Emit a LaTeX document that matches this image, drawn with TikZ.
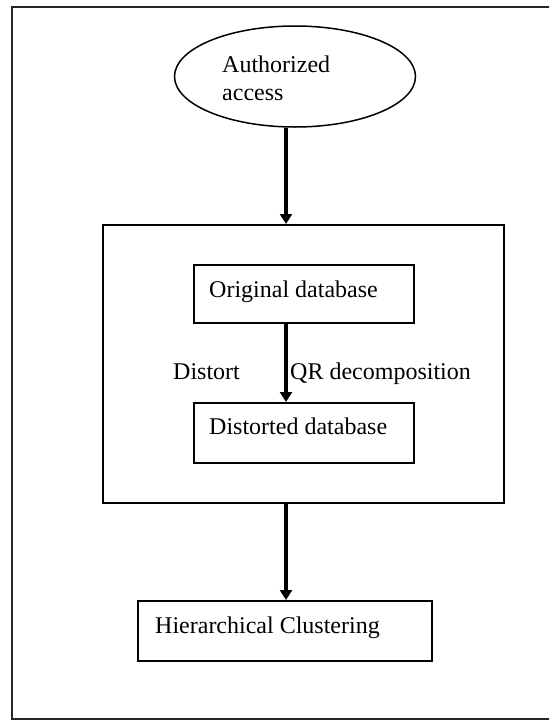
\documentclass[tikz,border=0pt]{standalone}
\usepackage{fontspec}
\setmainfont{Liberation Serif}
\usetikzlibrary{shapes.geometric,arrows.meta}
\tikzset{
  boxnode/.style={draw=black, line width=2pt, rectangle, inner sep=0pt},
  ovalnode/.style={draw=black, line width=1.5pt, ellipse, inner sep=0pt},
  txt/.style={anchor=base west, inner sep=0pt, font=\fontsize{24}{28}\selectfont},
  arr/.style={line width=3.5pt, -{Triangle[width=12pt,length=10pt]}},
  framebox/.style={draw=black!85, line width=2pt}
}
\begin{document}
\begin{tikzpicture}[x=1pt,y=-1pt]
\useasboundingbox (0,0) rectangle (549,720);
\clip (0,0) rectangle (549,720);
\draw[framebox] (12,7) rectangle (580,719);
% nodes
\node[ovalnode, minimum width=241pt, minimum height=101pt] (auth) at (295,76.5) {};
\node[txt] (auth1) at (222,72) {Authorized};
\node[txt] (auth2) at (222,100) {access};
\node[boxnode, minimum width=401pt, minimum height=278pt] (mid) at (303.5,364) {};
\node[boxnode, minimum width=220pt, minimum height=58pt] (orig) at (304,294) {};
\node[txt] (origtxt) at (209,297) {Original database};
\node[boxnode, minimum width=220pt, minimum height=60pt] (dist) at (304,433) {};
\node[txt] (disttxt) at (209,434) {Distorted database};
\node[txt] (lbl1) at (173,379) {Distort};
\node[txt] (lbl2) at (290,379) {QR decomposition};
\node[boxnode, minimum width=294pt, minimum height=60pt] (hier) at (285,631) {};
\node[txt] (hiertxt) at (155,633) {Hierarchical Clustering};
% connectors
\coordinate (ax) at (286,0);
\draw[arr] (auth.south -| ax) -- (mid.north -| ax);
\draw[arr] (orig.south -| ax) -- (dist.north -| ax);
\draw[arr] (mid.south -| ax) -- (hier.north -| ax);
\end{tikzpicture}
\end{document}
